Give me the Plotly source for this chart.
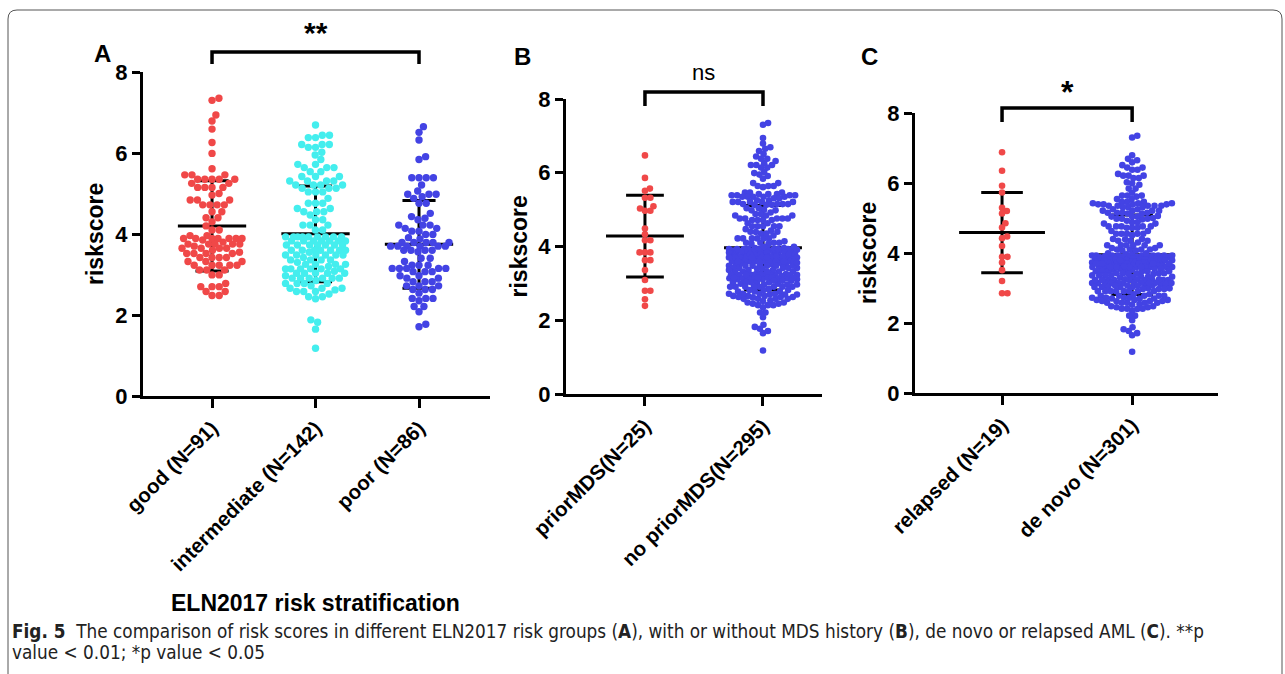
import math
import numpy as np
import plotly.graph_objects as go

W, H = 1285, 674

# ---- risk scores per group ----
good = [
    7.35, 7.30, 6.94, 6.79, 6.59, 6.26, 5.99, 5.61,
    5.46, 5.46, 5.46, 5.35, 5.35, 5.35, 5.35, 5.35, 5.25, 5.25,
    5.15, 5.15, 5.15, 5.15, 5.00, 4.96, 4.84, 4.84, 4.84,
    4.72, 4.72, 4.72, 4.72, 4.55, 4.55, 4.40, 4.40, 4.30, 4.20,
    4.10, 4.10, 3.96, 3.96, 3.89, 3.89, 3.89, 3.89, 3.89, 3.89, 3.89,
    3.85, 3.80, 3.75, 3.75, 3.75, 3.75, 3.75, 3.70, 3.65, 3.65, 3.65, 3.65,
    3.60, 3.55, 3.52, 3.52, 3.52, 3.52, 3.42, 3.42, 3.42, 3.42,
    3.32, 3.32, 3.32, 3.23, 3.23, 3.23, 3.23, 3.23, 3.11, 3.11, 3.11,
    2.99, 2.99, 2.78, 2.70, 2.70, 2.70, 2.58, 2.58, 2.48, 2.48,
]
intermediate = [
    6.69,
    6.44, 6.44, 6.38, 6.38, 6.21, 6.21, 6.21, 6.14, 6.14,
    6.02, 5.95, 5.84, 5.72, 5.72, 5.64, 5.64, 5.64, 5.54, 5.54,
    5.42, 5.42, 5.42, 5.31, 5.31, 5.31, 5.31, 5.21, 5.21, 5.21, 5.21,
    5.13, 5.13, 5.13, 5.04, 5.04, 5.04, 4.88, 4.76, 4.76, 4.76,
    4.63, 4.63, 4.55, 4.55, 4.55, 4.47, 4.35, 4.35, 4.22, 4.22, 4.22, 4.10, 4.10,
    3.93, 3.93, 3.93, 3.93, 3.93, 3.93, 3.93, 3.93, 3.93,
    3.83, 3.83, 3.83, 3.83, 3.83, 3.83, 3.83,
    3.73, 3.73, 3.73, 3.73, 3.73, 3.73, 3.73,
    3.60, 3.60, 3.60, 3.60, 3.60, 3.60, 3.60,
    3.55, 3.48, 3.48, 3.48, 3.48, 3.48, 3.48, 3.42,
    3.36, 3.36, 3.36, 3.36, 3.30, 3.25, 3.25, 3.25, 3.25, 3.20,
    3.14, 3.14, 3.14, 3.14, 3.14, 3.14, 3.08, 3.03, 3.03, 3.03, 3.03, 3.03, 2.97,
    2.91, 2.91, 2.91, 2.91, 2.91, 2.91, 2.85, 2.78, 2.78, 2.78, 2.78, 2.72,
    2.66, 2.66, 2.66, 2.62, 2.58, 2.58, 2.58, 2.52, 2.45, 2.45, 2.40,
    1.88, 1.82, 1.65, 1.18,
]
poor = [
    6.65, 6.51, 6.32, 5.91, 5.84,
    5.39, 5.39, 5.39, 5.39, 5.21, 5.06,
    4.98, 4.98, 4.98, 4.92, 4.88, 4.76, 4.76,
    4.51, 4.43, 4.39, 4.35, 4.22, 4.22, 4.22, 4.14, 4.14, 4.07, 4.07,
    3.99, 3.99, 3.91, 3.88,
    3.79, 3.79, 3.79, 3.79, 3.79, 3.70, 3.70, 3.70, 3.70, 3.70, 3.70,
    3.60, 3.60, 3.60, 3.60, 3.56,
    3.40, 3.40, 3.32, 3.23, 3.23, 3.23,
    3.15, 3.15, 3.15, 3.15, 3.15, 3.07, 3.07, 3.07,
    2.97, 2.97, 2.91, 2.91, 2.82, 2.82, 2.82,
    2.72, 2.72, 2.72, 2.63, 2.63, 2.63, 2.54,
    2.41, 2.41, 2.41, 2.35, 2.21, 2.21, 2.08, 1.77, 1.71,
]
eln_unclassified = [3.62]

prior_mds = [
    6.47, 5.86, 5.57, 5.51, 5.32, 5.32, 5.09, 5.03, 4.97, 4.97,
    4.49, 4.33, 4.17, 4.17, 3.84, 3.84, 3.84, 3.63, 3.63, 3.36,
    3.09, 2.80, 2.80, 2.57, 2.39,
]
relapsed = [
    6.88, 6.35, 5.92, 5.73, 5.29, 5.20, 5.13, 4.85, 4.73, 4.47,
    4.42, 4.20, 3.89, 3.89, 3.73, 3.51, 3.20, 2.85, 2.85,
]

eln_labels = ["good (N=91)", "intermediate (N=142)", "poor (N=86)"]
mds_labels = ["priorMDS(N=25)", "no priorMDS(N=295)"]
origin_labels = ["relapsed (N=19)", "de novo (N=301)"]
y_ticks = [0, 2, 4, 6, 8]


def remaining(pool, subgroup):
    """Cohort patients that are not in the given subgroup."""
    rest = list(pool)
    for v in subgroup:
        j = min(range(len(rest)), key=lambda k: abs(rest[k] - v))
        rest.pop(j)
    return rest


cohort = good + intermediate + poor + eln_unclassified
no_prior_mds = remaining(cohort, prior_mds)
de_novo = remaining(cohort, relapsed)

RED = "#F04848"
CYAN = "#44EEEE"
BLUE = "#4343E4"
FONT = "Liberation Sans, Arial, sans-serif"
CAPTION_FONT = "DejaVu Sans Condensed, Liberation Sans Narrow, sans-serif"


def px_x(p):
    return p / W


def px_y(p):
    return 1 - p / H


def swarm(values, center, upx, upy, gap, max_half):
    """Beeswarm offsets (pixels -> axis units). Points take the free slot nearest
    the centre; when a row is full they overlap inside the allowed half-width."""
    order = sorted(range(len(values)), key=lambda i: values[i])
    placed = []
    xs = [0.0] * len(values)
    for i in order:
        y = values[i] * upy
        near = [(qx, qy) for qx, qy in placed if abs(qy - y) < gap]
        lean = sum(1 if qx > 0 else -1 if qx < 0 else 0 for qx, _ in near)
        side = -1 if lean > 0 else 1
        cands = [0.0]
        for qx, qy in near:
            dx = math.sqrt(max(gap * gap - (qy - y) ** 2, 0.0))
            cands += [qx + dx, qx - dx]
        cands = [c for c in cands if abs(c) <= max_half + 1e-9]
        cands.sort(key=lambda c: (round(abs(c), 6), -side * c))
        chosen = None
        for c in cands:
            if all((c - qx) ** 2 + (y - qy) ** 2 >= gap * gap - 1e-6 for qx, qy in near):
                chosen = c
                break
        if chosen is None:
            best, best_d = 0.0, -1.0
            steps = int(max_half * 2) + 1
            for s in range(steps):
                c = -max_half + s * (2 * max_half) / (steps - 1)
                d = min((c - qx) ** 2 + (y - qy) ** 2 for qx, qy in near)
                if d > best_d + 1e-9 or (abs(d - best_d) <= 1e-9 and abs(c) < abs(best)):
                    best, best_d = c, d
            chosen = best
        placed.append((chosen, y))
        xs[i] = center + chosen / upx
    return xs


panels = [
    dict(groups=[good, intermediate, poor], colors=[RED, CYAN, BLUE], labels=eln_labels,
         xpx=(143, 490), ypx=(72, 396), xr=(-0.667, 2.686), msize=7.4, gap=7.2, half=30,
         letter="A", letter_at=(102, 53), title_x=95,
         bracket=(0, 2, 52, 64), sig="**", sig_at=33, sig_size=30, sig_bold=True),
    dict(groups=[prior_mds, no_prior_mds], colors=[RED, BLUE], labels=mds_labels,
         xpx=(566, 822), ypx=(99, 394), xr=(-0.669, 1.5), msize=6.6, gap=5.4, half=34,
         letter="B", letter_at=(522, 57), title_x=518,
         bracket=(0, 1, 92, 106), sig="ns", sig_at=72, sig_size=22, sig_bold=False),
    dict(groups=[relapsed, de_novo], colors=[RED, BLUE], labels=origin_labels,
         xpx=(915, 1218), ypx=(113, 393), xr=(-0.669, 1.66), msize=6.6, gap=5.4, half=40,
         letter="C", letter_at=(869, 57), title_x=868,
         bracket=(0, 1, 108, 122), sig="*", sig_at=92, sig_size=32, sig_bold=True),
]

fig = go.Figure()
shapes = []
annotations = []

for k, p in enumerate(panels):
    sfx = "" if k == 0 else str(k + 1)
    xa, ya = "x" + sfx, "y" + sfx
    upx = (p["xpx"][1] - p["xpx"][0]) / (p["xr"][1] - p["xr"][0])
    upy = (p["ypx"][1] - p["ypx"][0]) / 8.0

    for g, (vals, col) in enumerate(zip(p["groups"], p["colors"])):
        m = float(np.mean(vals))
        s = float(np.std(vals, ddof=1))
        # mean line, SD caps and SD whisker
        lx = [g - 0.33, g + 0.33, None, g - 0.16, g + 0.16, None,
              g - 0.16, g + 0.16, None, g, g]
        ly = [m, m, None, m + s, m + s, None, m - s, m - s, None, m - s, m + s]
        fig.add_trace(go.Scatter(x=lx, y=ly, xaxis=xa, yaxis=ya, mode="lines",
                                 line=dict(color="black", width=3),
                                 hoverinfo="skip", showlegend=False))
        xs = swarm(vals, g, upx, upy, p["gap"], p["half"])
        fig.add_trace(go.Scatter(x=xs, y=vals, xaxis=xa, yaxis=ya, mode="markers",
                                 marker=dict(color=col, size=p["msize"], line=dict(width=0)),
                                 showlegend=False, cliponaxis=False))

    ax_x = dict(domain=[px_x(p["xpx"][0]), px_x(p["xpx"][1])], range=list(p["xr"]),
                anchor=ya, showline=True, linecolor="black", linewidth=3,
                showgrid=False, zeroline=False, automargin=False,
                tickmode="array", tickvals=list(range(len(p["labels"]))),
                ticktext=p["labels"], ticks="outside", ticklen=9, tickwidth=3,
                tickcolor="black", tickangle=-45,
                tickfont=dict(family=FONT, size=20.5, color="black", weight="bold"))
    ax_y = dict(domain=[px_y(p["ypx"][1]), px_y(p["ypx"][0])], range=[0, 8],
                anchor=xa, showline=True, linecolor="black", linewidth=3,
                showgrid=False, zeroline=False, automargin=False,
                tickmode="array", tickvals=y_ticks, ticks="outside", ticklen=8,
                tickwidth=3, tickcolor="black",
                tickfont=dict(family=FONT, size=22, color="black", weight="bold"))
    fig.layout["xaxis" + sfx] = ax_x
    fig.layout["yaxis" + sfx] = ax_y

    # significance bracket
    a, b, top, leg = p["bracket"]
    shapes.append(dict(type="path", xref=xa, yref="paper",
                       path=f"M {a},{px_y(leg)} L {a},{px_y(top)} L {b},{px_y(top)} L {b},{px_y(leg)}",
                       line=dict(color="black", width=3.5)))
    annotations.append(dict(x=(a + b) / 2, y=px_y(p["sig_at"]), xref=xa, yref="paper",
                            text=p["sig"], showarrow=False, xanchor="center", yanchor="middle",
                            font=dict(family=FONT, size=p["sig_size"], color="black",
                                      weight="bold" if p["sig_bold"] else "normal")))
    # panel letter
    annotations.append(dict(x=px_x(p["letter_at"][0]), y=px_y(p["letter_at"][1]),
                            xref="paper", yref="paper", text=p["letter"], showarrow=False,
                            xanchor="center", yanchor="middle",
                            font=dict(family=FONT, size=24, color="black", weight="bold")))
    # y-axis title
    annotations.append(dict(x=px_x(p["title_x"]), y=px_y(sum(p["ypx"]) / 2),
                            xref="paper", yref="paper", text="riskscore", textangle=-90,
                            showarrow=False, xanchor="center", yanchor="middle",
                            font=dict(family=FONT, size=23, color="black", weight="bold")))

annotations.append(dict(x=px_x(315), y=px_y(603), xref="paper", yref="paper",
                        text="ELN2017 risk stratification", showarrow=False,
                        xanchor="center", yanchor="middle",
                        font=dict(family=FONT, size=23, color="black", weight="bold")))

annotations.append(dict(x=px_x(10), y=px_y(631), xref="paper", yref="paper",
                        text="<b>Fig. 5</b>  The comparison of risk scores in different ELN2017 risk groups "
                             "(<b>A</b>), with or without MDS history (<b>B</b>), de novo or relapsed AML "
                             "(<b>C</b>). **p",
                        showarrow=False, xanchor="left", yanchor="middle",
                        font=dict(family=CAPTION_FONT, size=18.8, color="#222222")))
annotations.append(dict(x=px_x(10), y=px_y(652), xref="paper", yref="paper",
                        text="value &lt; 0.01; *p value &lt; 0.05",
                        showarrow=False, xanchor="left", yanchor="middle",
                        font=dict(family=CAPTION_FONT, size=18.8, color="#222222")))

# rounded frame around the figure
r = 9
x0, y0, x1, y1 = 8, 10, 1282, 690
frame = (f"M {px_x(x0)},{px_y(y1)} L {px_x(x0)},{px_y(y0 + r)} "
         f"Q {px_x(x0)},{px_y(y0)} {px_x(x0 + r)},{px_y(y0)} "
         f"L {px_x(x1 - r)},{px_y(y0)} Q {px_x(x1)},{px_y(y0)} {px_x(x1)},{px_y(y0 + r)} "
         f"L {px_x(x1)},{px_y(y1)}")
shapes.append(dict(type="path", xref="paper", yref="paper", path=frame,
                   line=dict(color="#555555", width=1)))

fig.update_layout(template="none", width=W, height=H, margin=dict(l=0, r=0, t=0, b=0, pad=0),
                  paper_bgcolor="white", plot_bgcolor="white",
                  shapes=shapes, annotations=annotations, showlegend=False)

fig.write_html("out.html")
